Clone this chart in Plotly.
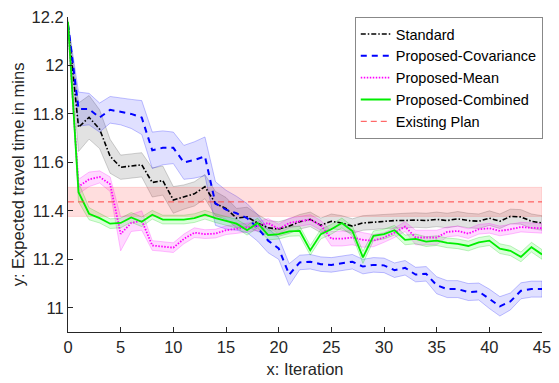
import plotly.graph_objects as go

iterations = list(range(46))

standard_mean = [12.17, 11.745, 11.786, 11.737, 11.625, 11.58, 11.585, 11.59, 11.517, 11.525,
                 11.445, 11.457, 11.47, 11.50, 11.43, 11.41, 11.37, 11.375, 11.35, 11.33,
                 11.325, 11.337, 11.355, 11.365, 11.34, 11.357, 11.35, 11.337, 11.35, 11.353,
                 11.357, 11.36, 11.36, 11.362, 11.36, 11.365, 11.36, 11.367, 11.36, 11.357,
                 11.37, 11.357, 11.377, 11.375, 11.357, 11.35]
standard_err = [0.01, 0.1, 0.09, 0.08, 0.07, 0.05, 0.05, 0.05, 0.06, 0.06,
                0.055, 0.05, 0.05, 0.05, 0.05, 0.045, 0.04, 0.04, 0.035, 0.03,
                0.03, 0.03, 0.03, 0.03, 0.03, 0.03, 0.03, 0.03, 0.03, 0.03,
                0.03, 0.03, 0.03, 0.03, 0.03, 0.03, 0.03, 0.03, 0.03, 0.03,
                0.03, 0.03, 0.03, 0.03, 0.03, 0.03]

cov_mean = [12.17, 11.82, 11.82, 11.785, 11.817, 11.81, 11.80, 11.785, 11.65, 11.66,
            11.66, 11.60, 11.61, 11.625, 11.43, 11.405, 11.39, 11.37, 11.33, 11.277,
            11.245, 11.137, 11.187, 11.19, 11.18, 11.177, 11.185, 11.19, 11.17, 11.177,
            11.175, 11.155, 11.165, 11.137, 11.14, 11.093, 11.077, 11.077, 11.065, 11.067,
            11.037, 11.006, 11.026, 11.07, 11.077, 11.077]
cov_err = [0.01, 0.07, 0.065, 0.06, 0.055, 0.055, 0.06, 0.07, 0.075, 0.07,
           0.065, 0.07, 0.075, 0.08, 0.09, 0.08, 0.07, 0.06, 0.055, 0.05,
           0.045, 0.045, 0.03, 0.03, 0.03, 0.03, 0.03, 0.03, 0.03, 0.03,
           0.03, 0.03, 0.03, 0.03, 0.03, 0.035, 0.035, 0.035, 0.035, 0.035,
           0.04, 0.04, 0.035, 0.033, 0.033, 0.033]

mean_mean = [12.17, 11.50, 11.53, 11.54, 11.51, 11.305, 11.35, 11.36, 11.257, 11.253,
             11.248, 11.284, 11.31, 11.304, 11.306, 11.32, 11.325, 11.33, 11.337, 11.35,
             11.325, 11.35, 11.357, 11.364, 11.34, 11.285, 11.285, 11.29, 11.28, 11.277,
             11.29, 11.31, 11.335, 11.29, 11.29, 11.29, 11.313, 11.317, 11.306, 11.324,
             11.328, 11.317, 11.324, 11.333, 11.33, 11.328]
mean_err = [0.01, 0.03, 0.03, 0.025, 0.03, 0.07, 0.035, 0.04, 0.02, 0.02,
            0.02, 0.02, 0.02, 0.018, 0.018, 0.018, 0.018, 0.018, 0.018, 0.018,
            0.02, 0.02, 0.02, 0.02, 0.02, 0.03, 0.03, 0.03, 0.03, 0.025,
            0.02, 0.02, 0.02, 0.03, 0.03, 0.03, 0.02, 0.02, 0.02, 0.02,
            0.02, 0.02, 0.02, 0.02, 0.02, 0.02]

comb_mean = [12.18, 11.477, 11.388, 11.37, 11.347, 11.35, 11.373, 11.355, 11.384, 11.364,
             11.364, 11.364, 11.37, 11.384, 11.37, 11.357, 11.347, 11.32, 11.35, 11.30,
             11.304, 11.315, 11.317, 11.237, 11.304, 11.324, 11.35, 11.317, 11.208, 11.297,
             11.304, 11.32, 11.28, 11.284, 11.273, 11.277, 11.268, 11.264, 11.255, 11.27,
             11.277, 11.244, 11.235, 11.21, 11.25, 11.22]
comb_err = [0.01, 0.04, 0.025, 0.02, 0.02, 0.02, 0.02, 0.02, 0.018, 0.018,
            0.018, 0.018, 0.018, 0.018, 0.018, 0.018, 0.018, 0.02, 0.02, 0.02,
            0.02, 0.02, 0.02, 0.02, 0.02, 0.02, 0.02, 0.02, 0.025, 0.02,
            0.02, 0.02, 0.02, 0.02, 0.02, 0.02, 0.02, 0.02, 0.02, 0.02,
            0.02, 0.02, 0.02, 0.02, 0.02, 0.02]

existing_plan = 11.437
existing_err = 0.06

x_ticks = [0, 5, 10, 15, 20, 25, 30, 35, 40, 45]
y_ticks = [11, 11.2, 11.4, 11.6, 11.8, 12, 12.2]
y_ticklabels = ["11", "11.2", "11.4", "11.6", "11.8", "12", "12.2"]

fig = go.Figure()


def band(x, m, e, fill, edge):
    upper = [a + b for a, b in zip(m, e)]
    lower = [a - b for a, b in zip(m, e)]
    fig.add_trace(go.Scatter(
        x=list(x) + list(x)[::-1], y=upper + lower[::-1],
        fill="toself", fillcolor=fill, mode="lines",
        line=dict(color=edge, width=0.8), hoverinfo="skip", showlegend=False))


band(iterations, standard_mean, standard_err, "rgba(110,110,110,0.2)", "rgba(90,90,90,0.35)")
band(iterations, cov_mean, cov_err, "rgba(0,0,255,0.12)", "rgba(0,0,255,0.3)")
band(iterations, mean_mean, mean_err, "rgba(255,0,255,0.15)", "rgba(255,0,255,0.3)")
band(iterations, comb_mean, comb_err, "rgba(0,255,0,0.15)", "rgba(0,200,0,0.3)")
band([iterations[0], iterations[-1]], [existing_plan] * 2, [existing_err] * 2,
     "rgba(255,60,60,0.17)", "rgba(255,60,60,0.2)")

fig.add_trace(go.Scatter(x=iterations, y=standard_mean, mode="lines", name="Standard",
                         line=dict(color="black", width=1.6, dash="5px,2px,1.5px,2px")))
fig.add_trace(go.Scatter(x=iterations, y=cov_mean, mode="lines", name="Proposed-Covariance",
                         line=dict(color="blue", width=2, dash="6px,5px")))
fig.add_trace(go.Scatter(x=iterations, y=mean_mean, mode="lines", name="Proposed-Mean",
                         line=dict(color="magenta", width=1.8, dash="1.5px,1.5px")))
fig.add_trace(go.Scatter(x=iterations, y=comb_mean, mode="lines", name="Proposed-Combined",
                         line=dict(color="#00ee00", width=1.8)))
fig.add_trace(go.Scatter(x=[iterations[0], iterations[-1]], y=[existing_plan] * 2, mode="lines",
                         name="Existing Plan",
                         line=dict(color="rgb(255,70,70)", width=1, dash="6px,4px")))

font_family = "Liberation Sans, Arial, Helvetica, sans-serif"
axis_color = "#262626"

fig.update_layout(
    width=559, height=383,
    margin=dict(l=68, r=8, t=10, b=50, pad=0),
    plot_bgcolor="white", paper_bgcolor="white",
    font=dict(family=font_family, color=axis_color, size=16),
    showlegend=True,
    legend=dict(x=0.605, y=1.0, xanchor="left", yanchor="top",
                bgcolor="white", bordercolor="#888888", borderwidth=1,
                font=dict(size=14.5, color="black", family=font_family),
                tracegroupgap=0, itemwidth=30),
    xaxis=dict(range=[0, 45], tickvals=x_ticks, ticks="inside", ticklen=5,
               tickcolor=axis_color, showline=True, linecolor=axis_color, linewidth=1,
               showgrid=False, zeroline=False, tickfont=dict(size=16.5),
               ticklabeloverflow="allow",
               title=dict(text="x: Iteration", font=dict(size=16.5), standoff=8)),
    yaxis=dict(range=[10.9, 12.2], tickvals=y_ticks, ticktext=y_ticklabels, ticks="inside",
               ticklen=5, tickcolor=axis_color, showline=True, linecolor=axis_color,
               linewidth=1, showgrid=False, zeroline=False, tickfont=dict(size=16.5),
               ticklabeloverflow="allow",
               title=dict(text="y: Expected travel time in mins", font=dict(size=16.5),
                          standoff=2)),
)

fig.write_html("out.html")
